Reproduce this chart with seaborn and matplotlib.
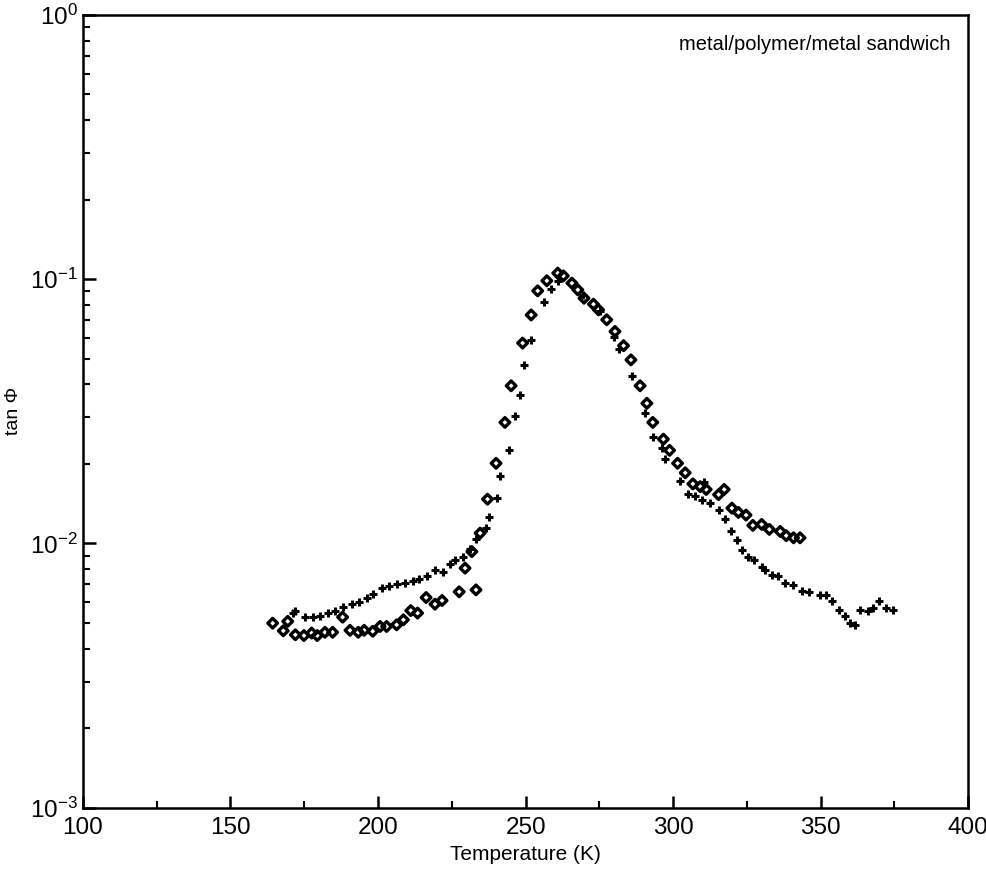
import matplotlib
matplotlib.use("Agg")
import matplotlib.pyplot as plt
import seaborn as sns
import numpy as np
from matplotlib.ticker import LogLocator, FixedLocator, NullFormatter

# Diamond series (open markers)
temp_diamond = [164.3, 167.9, 169.4, 172.0, 174.9, 177.5, 179.4, 182.0, 184.6, 188.0,
                190.5, 193.3, 195.3, 198.2, 200.7, 202.9, 206.3, 208.6, 211.1, 213.4,
                216.3, 219.3, 221.7, 227.5, 229.5, 231.8, 233.2, 234.6, 237.1, 240.0,
                243.0, 245.1, 249.0, 251.9, 254.1, 257.2, 260.9, 262.8, 265.7, 267.7,
                269.8, 273.0, 274.7, 277.5, 280.3, 283.2, 285.7, 288.8, 291.1, 293.1,
                296.7, 298.8, 301.5, 304.1, 306.7, 309.2, 311.2, 315.4, 317.3, 319.9,
                322.1, 324.7, 327.0, 330.0, 332.6, 336.3, 338.3, 340.8, 343.0]
tan_diamond = [0.00499, 0.00467, 0.00507, 0.00451, 0.00448, 0.00458, 0.00448, 0.00461, 0.00461, 0.00526,
               0.00469, 0.00461, 0.00469, 0.00465, 0.00485, 0.00485, 0.00492, 0.00514, 0.00557, 0.00545,
               0.00624, 0.00589, 0.00608, 0.00656, 0.00806, 0.00931, 0.00667, 0.01094, 0.0147, 0.0201,
               0.0287, 0.0395, 0.0573, 0.0732, 0.0903, 0.0986, 0.1054, 0.1029, 0.0966, 0.0911,
               0.0847, 0.0804, 0.0766, 0.0702, 0.0634, 0.0560, 0.0495, 0.0395, 0.0339, 0.0287,
               0.0248, 0.0225, 0.0201, 0.0185, 0.0168, 0.0164, 0.0160, 0.0153, 0.0160, 0.0136,
               0.0131, 0.0128, 0.0117, 0.0118, 0.0113, 0.0111, 0.0107, 0.0105, 0.0105]

# Cross series (+ markers)
temp_cross = [171.1, 171.9, 175.3, 178.1, 180.3, 183.0, 185.4, 188.2, 191.1, 193.7,
              196.2, 198.4, 201.3, 203.8, 206.3, 209.2, 211.8, 214.0, 216.5, 219.3,
              221.9, 224.4, 226.1, 228.9, 231.0, 233.2, 236.6, 237.7, 240.2, 241.4,
              244.5, 246.4, 248.1, 249.6, 251.9, 256.4, 258.5, 261.1, 269.6, 275.3,
              279.8, 281.8, 286.0, 290.5, 293.1, 296.1, 297.3, 302.4, 305.2, 307.5,
              309.7, 310.5, 312.5, 315.4, 317.6, 319.7, 321.8, 323.3, 325.5, 327.5,
              330.1, 331.2, 333.4, 335.7, 338.0, 340.6, 343.6, 345.9, 349.8, 351.9,
              353.8, 356.1, 358.3, 360.0, 361.7, 363.4, 366.2, 367.7, 369.9, 372.2,
              374.5]
tan_cross = [0.00545, 0.00553, 0.00526, 0.00528, 0.00532, 0.00545, 0.00553, 0.00577, 0.00589, 0.00600,
             0.00621, 0.00645, 0.00678, 0.00691, 0.00701, 0.00708, 0.00718, 0.00732, 0.00756, 0.00790,
             0.00780, 0.00838, 0.00867, 0.00887, 0.00950, 0.0104, 0.0114, 0.0126, 0.0148, 0.0180,
             0.0225, 0.0304, 0.0365, 0.0474, 0.0586, 0.0818, 0.0916, 0.0980, 0.0870, 0.0755,
             0.0603, 0.0543, 0.0431, 0.0311, 0.0253, 0.0229, 0.0208, 0.0173, 0.0154, 0.0151,
             0.0146, 0.0171, 0.0142, 0.0134, 0.0124, 0.0111, 0.0103, 0.00946, 0.00892, 0.00867,
             0.00813, 0.00790, 0.00760, 0.00750, 0.00711, 0.00697, 0.00658, 0.00652, 0.00639, 0.00639,
             0.00608, 0.00561, 0.00532, 0.00502, 0.00492, 0.00561, 0.00553, 0.00569, 0.00606, 0.00569,
             0.00561]

x_ticks = [100, 150, 200, 250, 300, 350, 400]
y_ticks = [1e-3, 1e-2, 1e-1, 1e0]
y_tick_labels = ["$10^{-3}$", "$10^{-2}$", "$10^{-1}$", "$10^{0}$"]

sns.set_style("ticks")
plt.rcParams['font.family'] = ['Liberation Sans', 'DejaVu Sans']
plt.rcParams['mathtext.fontset'] = 'custom'
plt.rcParams['mathtext.rm'] = 'Liberation Sans'
plt.rcParams['mathtext.it'] = 'Liberation Sans'
plt.rcParams['text.color'] = 'black'
plt.rcParams['axes.labelcolor'] = 'black'

fig = plt.figure(figsize=(9.87, 8.76), dpi=100)
ax = fig.add_axes([0.084, 0.078, 0.897, 0.905])

sns.scatterplot(x=temp_diamond, y=tan_diamond, ax=ax, marker='D', s=24,
                facecolor='none', edgecolor='black', linewidth=2.4, zorder=3)
sns.scatterplot(x=temp_cross, y=tan_cross, ax=ax, marker='+', s=36,
                color='black', linewidth=2.2, zorder=3)

ax.set_yscale('log')
ax.set_xlim(100, 400)
ax.set_ylim(1e-3, 1e0)

ax.xaxis.set_major_locator(FixedLocator(x_ticks))
ax.xaxis.set_minor_locator(FixedLocator([125, 175, 225, 275, 325, 375]))
ax.set_xticklabels([str(t) for t in x_ticks])
ax.yaxis.set_major_locator(FixedLocator(y_ticks))
ax.set_yticklabels(y_tick_labels)
ax.yaxis.set_minor_locator(LogLocator(base=10, subs=np.arange(2, 10)))
ax.yaxis.set_minor_formatter(NullFormatter())

ax.tick_params(axis='both', which='major', direction='in', length=9, width=1.8,
               labelsize=17.5, top=False, right=False, color='black', labelcolor='black')
ax.tick_params(axis='both', which='minor', direction='in', length=5, width=1.5,
               top=False, right=False, color='black')
ax.tick_params(axis='x', which='major', pad=7)

for s in ax.spines.values():
    s.set_visible(True)
    s.set_linewidth(1.8)
    s.set_color('black')

ax.set_xlabel("Temperature (K)", fontsize=15, labelpad=4, color='black')
ax.set_ylabel("tan Φ", fontsize=14, labelpad=6, color='black')
ax.text(0.98, 0.975, "metal/polymer/metal sandwich", transform=ax.transAxes,
        ha='right', va='top', fontsize=14.5, color='black')

fig.savefig("out.png", dpi=100)
